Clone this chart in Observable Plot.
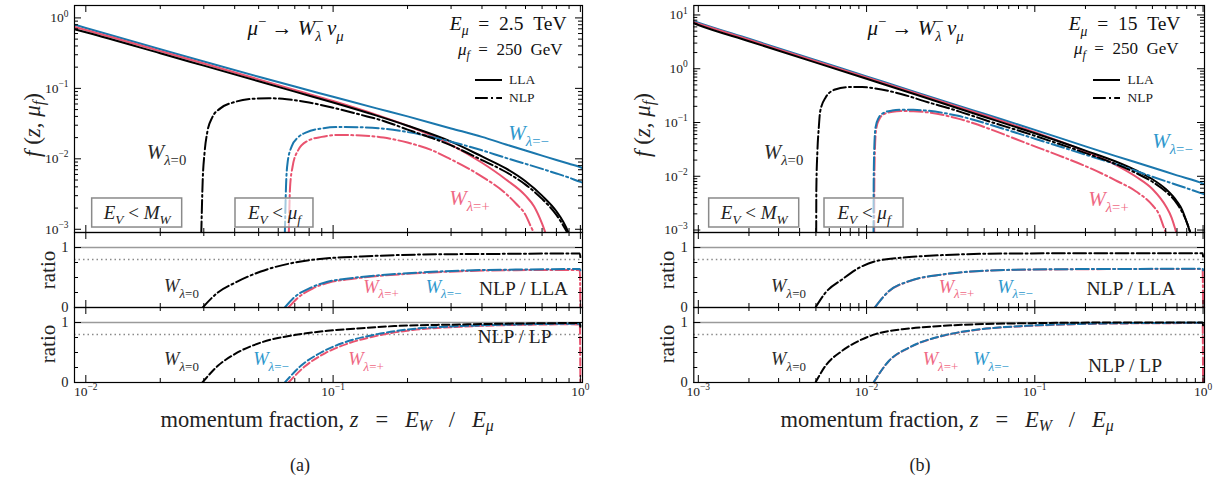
<!DOCTYPE html>
<html><head><meta charset="utf-8">
<script src="https://cdn.jsdelivr.net/npm/d3@7"></script>
<script src="https://cdn.jsdelivr.net/npm/@observablehq/plot@0.6"></script>
<style>
html,body{margin:0;padding:0;background:#fff;}
#root{position:relative;width:1218px;height:478px;overflow:hidden;font-family:"Liberation Serif","DejaVu Serif",serif;color:#222;}
.pw{position:absolute;}
.pw svg{display:block;overflow:visible;max-width:none;}
.t{position:absolute;white-space:nowrap;line-height:1;}
.t sub{font-size:70%;vertical-align:-0.28em;line-height:0;}
</style></head><body><div id="root"></div><script>
// ================= DATA : panel (a)  E_mu = 2.5 TeV =================
// main panel, [z, f(z, mu_f)]
const a_LLA_minus = [[0.009,0.80],[0.01,0.72],[0.02,0.36],[0.03,0.24],[0.05,0.146],[0.07,0.106],[0.1,0.076],[0.15,0.052],[0.2,0.040],[0.3,0.027],[0.4,0.0205],[0.5,0.016],[0.6,0.0131],[0.7,0.0111],[0.8,0.0096],[0.9,0.0085],[1.0,0.0076],[1.02,0.0074]];
const a_LLA_plus  = [[0.009,0.745],[0.01,0.675],[0.02,0.338],[0.03,0.225],[0.05,0.134],[0.07,0.095],[0.1,0.066],[0.15,0.042],[0.2,0.0295],[0.3,0.0158],[0.4,0.0088],[0.5,0.0051],[0.6,0.003],[0.65,0.0021],[0.7,0.0012],[0.73,0.0008]];
const a_LLA_zero  = [[0.009,0.69],[0.01,0.625],[0.02,0.315],[0.03,0.21],[0.05,0.126],[0.07,0.09],[0.1,0.063],[0.15,0.041],[0.2,0.0295],[0.3,0.0175],[0.4,0.0108],[0.5,0.0073],[0.6,0.0048],[0.7,0.003],[0.8,0.0018],[0.85,0.0013],[0.9,0.00085],[0.93,0.0006]];
const a_NLP_zero  = [[0.0293,0.00085],[0.0297,0.005],[0.0302,0.012],[0.031,0.024],[0.0325,0.039],[0.035,0.052],[0.04,0.064],[0.047,0.071],[0.055,0.0725],[0.065,0.070],[0.08,0.063],[0.1,0.053],[0.13,0.042],[0.16,0.0345],[0.2,0.026],[0.3,0.0155],[0.4,0.0096],[0.5,0.0065],[0.6,0.0043],[0.7,0.0027],[0.8,0.0016],[0.87,0.001],[0.9,0.0008]];
const a_NLP_minus = [[0.0638,0.00085],[0.0645,0.004],[0.0655,0.009],[0.068,0.015],[0.072,0.02],[0.078,0.0238],[0.09,0.027],[0.105,0.0282],[0.13,0.028],[0.16,0.0268],[0.2,0.024],[0.3,0.0175],[0.4,0.0132],[0.5,0.0103],[0.6,0.0085],[0.7,0.0072],[0.8,0.0062],[0.9,0.0054],[1.0,0.0047],[1.02,0.0046]];
const a_NLP_plus  = [[0.0662,0.00085],[0.067,0.004],[0.0685,0.0076],[0.072,0.013],[0.079,0.018],[0.09,0.0205],[0.105,0.0218],[0.13,0.0215],[0.16,0.02],[0.2,0.017],[0.25,0.0133],[0.3,0.0098],[0.35,0.0074],[0.4,0.0056],[0.5,0.0032],[0.55,0.0023],[0.6,0.0016],[0.63,0.0011],[0.66,0.0008]];
// ratio NLP / LLA
const a_R1_zero  = [[0.0297,0],[0.0342,0.25],[0.04,0.41],[0.051,0.6],[0.07,0.75],[0.095,0.82],[0.13,0.85],[0.18,0.873],[0.33,0.89],[0.55,0.895],[0.9,0.9],[0.995,0.9],[1.0,0.84]];
const a_R1_minus = [[0.0638,0],[0.0697,0.17],[0.0813,0.33],[0.095,0.43],[0.111,0.475],[0.151,0.535],[0.241,0.59],[0.328,0.615],[0.547,0.632],[0.9,0.64],[0.995,0.64],[1.0,0.62]];
const a_R1_plus  = [[0.066,0],[0.072,0.16],[0.083,0.32],[0.097,0.42],[0.113,0.465],[0.153,0.525],[0.24,0.58],[0.33,0.605],[0.55,0.622],[0.9,0.626],[0.995,0.62],[1.0,0]];
// ratio NLP / LP
const a_R2_zero  = [[0.0296,0],[0.0342,0.278],[0.04,0.473],[0.0512,0.667],[0.0697,0.79],[0.095,0.862],[0.13,0.906],[0.177,0.94],[0.33,0.967],[0.55,0.983],[0.9,0.99],[0.995,0.99],[1.0,0.93]];
const a_R2_minus = [[0.0638,0],[0.0741,0.278],[0.0894,0.5],[0.111,0.667],[0.151,0.806],[0.206,0.889],[0.328,0.94],[0.547,0.967],[0.9,0.98],[0.995,0.98],[1.0,0.95]];
const a_R2_plus  = [[0.066,0],[0.077,0.27],[0.093,0.49],[0.115,0.65],[0.155,0.79],[0.21,0.875],[0.33,0.93],[0.55,0.96],[0.9,0.97],[0.995,0.965],[1.0,0]];

// ================= DATA : panel (b)  E_mu = 15 TeV =================
const b_LLA_minus = [[0.00094,7.7],[0.001,7.2],[0.002,3.6],[0.005,1.44],[0.01,0.72],[0.02,0.36],[0.05,0.145],[0.1,0.073],[0.2,0.036],[0.3,0.024],[0.5,0.0146],[0.7,0.0104],[1.0,0.0073],[1.02,0.0071]];
const b_LLA_plus  = [[0.00094,7.35],[0.001,6.9],[0.002,3.45],[0.005,1.38],[0.01,0.69],[0.02,0.345],[0.05,0.136],[0.1,0.066],[0.2,0.029],[0.3,0.0165],[0.4,0.0098],[0.5,0.0058],[0.6,0.0028],[0.65,0.0017],[0.68,0.0011],[0.7,0.0008]];
const b_LLA_zero  = [[0.00094,7.0],[0.001,6.5],[0.002,3.25],[0.005,1.3],[0.01,0.65],[0.02,0.325],[0.05,0.128],[0.1,0.063],[0.2,0.03],[0.3,0.019],[0.4,0.0128],[0.5,0.0088],[0.6,0.0058],[0.7,0.0034],[0.75,0.0024],[0.8,0.0014],[0.83,0.001],[0.86,0.0007]];
const b_NLP_zero  = [[0.00502,0.00085],[0.00503,0.006],[0.0051,0.028],[0.0052,0.08],[0.0053,0.16],[0.0057,0.29],[0.0065,0.41],[0.0078,0.455],[0.0094,0.455],[0.0113,0.43],[0.016,0.34],[0.022,0.25],[0.035,0.163],[0.055,0.102],[0.086,0.066],[0.136,0.041],[0.215,0.025],[0.3,0.017],[0.4,0.0115],[0.5,0.0079],[0.6,0.0052],[0.7,0.0031],[0.8,0.0014],[0.83,0.001],[0.86,0.0007]];
const b_NLP_minus = [[0.011,0.00085],[0.01102,0.007],[0.0111,0.03],[0.0113,0.08],[0.0118,0.122],[0.0127,0.152],[0.0142,0.167],[0.016,0.172],[0.019,0.172],[0.022,0.168],[0.035,0.133],[0.055,0.09],[0.086,0.058],[0.136,0.037],[0.215,0.0235],[0.35,0.0145],[0.5,0.0098],[0.7,0.0069],[1.0,0.0047],[1.02,0.0046]];
const b_NLP_plus  = [[0.0111,0.00085],[0.01112,0.007],[0.0112,0.028],[0.0114,0.075],[0.0119,0.115],[0.0128,0.145],[0.0143,0.158],[0.016,0.163],[0.019,0.162],[0.022,0.157],[0.035,0.118],[0.055,0.074],[0.086,0.043],[0.136,0.025],[0.215,0.014],[0.3,0.0085],[0.4,0.0052],[0.5,0.0029],[0.55,0.0019],[0.58,0.0012],[0.6,0.0009]];
const b_R1_zero  = [[0.00497,0],[0.0057,0.247],[0.00716,0.468],[0.009,0.66],[0.0113,0.77],[0.0179,0.84],[0.0282,0.873],[0.0704,0.9],[0.348,0.905],[0.995,0.905],[1.0,0.85]];
const b_R1_minus = [[0.0112,0],[0.0136,0.275],[0.0179,0.44],[0.0282,0.55],[0.0446,0.605],[0.0883,0.632],[0.348,0.643],[0.995,0.645],[1.0,0.62]];
const b_R1_plus  = [[0.0112,0],[0.0136,0.272],[0.0179,0.437],[0.0282,0.548],[0.0446,0.603],[0.0883,0.63],[0.348,0.64],[0.995,0.64],[1.0,0]];
const b_R2_zero  = [[0.00497,0],[0.0057,0.278],[0.00716,0.528],[0.009,0.695],[0.0113,0.806],[0.0179,0.9],[0.0282,0.944],[0.0704,0.983],[0.348,1.0],[0.995,1.0],[1.0,0.95]];
const b_R2_minus = [[0.011,0],[0.0136,0.362],[0.0179,0.583],[0.0282,0.778],[0.0446,0.878],[0.0883,0.944],[0.348,0.989],[0.995,0.995],[1.0,0.97]];
const b_R2_plus  = [[0.011,0],[0.0136,0.36],[0.0179,0.58],[0.0282,0.775],[0.0446,0.875],[0.0883,0.94],[0.348,0.985],[0.995,0.99],[1.0,0]];

// ================= TEXT / LABELS =================
const helicityLabels = {zero:"*W*_{*λ*=0}", minus:"*W*_{*λ*=−}", plus:"*W*_{*λ*=+}"};
const processLabel = "*μ*^{−} → *W*^{−}_!{*λ*} *ν*_{*μ*}";
const energyLabels = {a:"*E*_{*μ*} = 2.5 TeV", b:"*E*_{*μ*} = 15 TeV"};
const scaleLabel = "*μ*_{*f*} = 250 GeV";
const boxLabels = ["*E*_{*V*} < *M*_{*W*}", "*E*_{*V*} < *μ*_{*f*}"];
const ratioTitles = ["NLP / LLA", "NLP / LP"];

const COL = {blue:"#1a77ad", red:"#e9536f", black:"#000", blueT:"#2f98cd", redT:"#ef6a85", blackT:"#2a2a2a"};
const DASHDOT = "12.8,3.2,2,3.2", DASHED = "7.4,3.2";
const FONT = '"Liberation Serif","DejaVu Serif",serif';

// annotation placements (data coordinates)
const a_mainText = [
  {z:0.0705,f:0.707,t:processLabel,c:"#111",s:21},
  {z:0.879,f:0.83,t:energyLabels.a,c:"#111",s:19.5,a:"end"},
  {z:0.847,f:0.36,t:scaleLabel,c:"#111",s:17,a:"end"},
  {z:0.0212,f:0.0123,t:helicityLabels.zero,c:COL.blackT,s:21},
  {z:0.617,f:0.0229,t:helicityLabels.minus,c:COL.blueT,s:21},
  {z:0.356,f:0.00274,t:helicityLabels.plus,c:COL.redT,s:21}
];
const a_boxes = [
  {z1:0.01061,z2:0.02453,f1:0.001059,f2:0.002735,t:boxLabels[0]},
  {z1:0.0403,z2:0.0833,f1:0.001059,f2:0.002735,t:boxLabels[1]}
];
const b_mainText = [
  {z:0.01954,f:5.6,t:processLabel,c:"#111",s:21},
  {z:0.734,f:6.85,t:energyLabels.b,c:"#111",s:19.5,a:"end"},
  {z:0.7145,f:2.33,t:scaleLabel,c:"#111",s:17,a:"end"},
  {z:0.003209,f:0.0277,t:helicityLabels.zero,c:COL.blackT,s:21},
  {z:0.658,f:0.0444,t:helicityLabels.minus,c:COL.blueT,s:21},
  {z:0.274,f:0.0037,t:helicityLabels.plus,c:COL.redT,s:21}
];
const b_boxes = [
  {z1:0.00116,z2:0.003978,f1:0.001115,f2:0.003862,t:boxLabels[0]},
  {z1:0.005623,z2:0.01658,f1:0.001115,f2:0.003862,t:boxLabels[1]}
];
const a_r1Text = [
  {z:0.02437,f:0.35,t:helicityLabels.zero,c:COL.blackT,s:18.5},
  {z:0.1562,f:0.34,t:helicityLabels.plus,c:COL.redT,s:18.5},
  {z:0.2796,f:0.34,t:helicityLabels.minus,c:COL.blueT,s:18.5},
  {z:0.589,f:0.317,t:ratioTitles[0],c:"#222",s:19.5}
];
const a_r2Text = [
  {z:0.02437,f:0.383,t:helicityLabels.zero,c:COL.blackT,s:18.5},
  {z:0.05609,f:0.383,t:helicityLabels.minus,c:COL.blueT,s:18.5},
  {z:0.1358,f:0.383,t:helicityLabels.plus,c:COL.redT,s:18.5},
  {z:0.5416,f:0.767,t:ratioTitles[1],c:"#222",s:19.5}
];
const b_r1Text = [
  {z:0.003436,f:0.35,t:helicityLabels.zero,c:COL.blackT,s:18.5},
  {z:0.03424,f:0.34,t:helicityLabels.plus,c:COL.redT,s:18.5},
  {z:0.07625,f:0.34,t:helicityLabels.minus,c:COL.blueT,s:18.5},
  {z:0.3731,f:0.317,t:ratioTitles[0],c:"#222",s:19.5}
];
const b_r2Text = [
  {z:0.003436,f:0.383,t:helicityLabels.zero,c:COL.blackT,s:18.5},
  {z:0.0275,f:0.383,t:helicityLabels.plus,c:COL.redT,s:18.5},
  {z:0.0549,f:0.383,t:helicityLabels.minus,c:COL.blueT,s:18.5},
  {z:0.3436,f:0.283,t:ratioTitles[1],c:"#222",s:19.5}
];

// ================= HELPERS =================
function logTicks(lo, hi){
  const major=[], minor=[];
  for(let e=Math.floor(Math.log10(lo)); e<=Math.ceil(Math.log10(hi)); e++){
    for(let m=1;m<10;m++){
      const v = +(m*Math.pow(10,e)).toPrecision(6);
      if(v<lo||v>hi) continue;
      (m===1?major:minor).push(v);
    }
  }
  return {major, minor};
}
const powFmt = d => "10^{" + String(Math.round(Math.log10(d))).replace("-","−") + "}";
function ln(data, color, dash){
  return Plot.line(data, {x:d=>d[0], y:d=>d[1], stroke:color, strokeWidth:2, strokeDasharray:dash, curve:"monotone-x", clip:true});
}
function txt(L){
  return Plot.text([L], {x:"z", y:"f", text:"t", fill:L.c, fontSize:L.s, textAnchor:L.a||"middle"});
}
function boxMarks(boxes){
  return [
    Plot.rect(boxes, {x1:"z1", x2:"z2", y1:"f1", y2:"f2", fill:"#fff", fillOpacity:0.6, stroke:"#8a8a8a", strokeWidth:1.5}),
    Plot.text(boxes, {x:d=>Math.sqrt(d.z1*d.z2), y:d=>Math.sqrt(d.f1*d.f2), text:"t", fill:"#222", fontSize:19})
  ];
}
const root = document.getElementById("root");
function panel(cfg){
  const {left, top, width, height, mL, mR, mT, mB, xDomain, yLog, yDomain, marks, xLabels} = cfg;
  const fw = width-mL-mR, fh = height-mT-mB;
  const xt = logTicks(xDomain[0], xDomain[1]);
  let yMaj, yMin, yLab, yFmt, yFs;
  if(yLog){ const t = logTicks(yDomain[0], yDomain[1]); yMaj=t.major; yMin=t.minor; yLab=t.major; yFmt=powFmt; yFs=13.5; }
  else { yMaj=[0,1]; yMin=[0.25,0.5,0.75]; yLab=[0,1]; yFmt=d=>String(d); yFs=14.5; }
  const tk = {stroke:"#000", strokeWidth:1};
  const all = [
    ...marks,
    Plot.tickX(xt.major, {x:d=>d, insetTop:fh-7, ...tk}),
    Plot.tickX(xt.major, {x:d=>d, insetBottom:fh-7, ...tk}),
    Plot.tickX(xt.minor, {x:d=>d, insetTop:fh-4, ...tk}),
    Plot.tickX(xt.minor, {x:d=>d, insetBottom:fh-4, ...tk}),
    Plot.tickY(yMaj, {y:d=>d, insetRight:fw-7, ...tk}),
    Plot.tickY(yMaj, {y:d=>d, insetLeft:fw-7, ...tk}),
    Plot.tickY(yMin, {y:d=>d, insetRight:fw-4, ...tk}),
    Plot.tickY(yMin, {y:d=>d, insetLeft:fw-4, ...tk}),
    Plot.text(yLab, {y:d=>d, frameAnchor:"left", dx:-6, textAnchor:"end", text:yFmt, fontSize:yFs, fill:"#222"}),
    Plot.frame({stroke:"#000", strokeWidth:1.2})
  ];
  if(xLabels) all.push(Plot.text(xt.major, {x:d=>d, frameAnchor:"bottom", dy:13, text:powFmt, fontSize:13.5, fill:"#222"}));
  const svg = Plot.plot({
    width, height, marginLeft:mL, marginRight:mR, marginTop:mT, marginBottom:mB,
    x:{type:"log", domain:xDomain, axis:null},
    y:{type:yLog?"log":"linear", domain:yDomain, axis:null},
    style:{fontFamily:FONT, fontSize:"13px", background:"transparent", overflow:"visible", color:"#222"},
    marks: all
  });
  const d = document.createElement("div");
  d.className = "pw"; d.style.left = left+"px"; d.style.top = top+"px"; d.style.width = width+"px";
  d.appendChild(svg); root.appendChild(d);
}
function refLines(){ return [
  Plot.ruleY([1], {stroke:"#9a9a9a", strokeWidth:1.6}),
  Plot.ruleY([0.8], {stroke:"#8a8a8a", strokeWidth:1.5, strokeDasharray:"1.5,3"})
]; }

// ================= PANELS =================
const specs = [
  {left:0, width:600, mL:74, mR:18, xDomain:[0.009,1.02], yMain:[9e-4,1.5],
   main:[a_LLA_minus,a_LLA_plus,a_LLA_zero], nlp:[a_NLP_minus,a_NLP_plus,a_NLP_zero],
   r1:[a_R1_minus,a_R1_plus,a_R1_zero], r2:[a_R2_minus,a_R2_plus,a_R2_zero],
   mainText:a_mainText, boxes:a_boxes, r1Text:a_r1Text, r2Text:a_r2Text},
  {left:610, width:608, mL:83.3, mR:14, xDomain:[0.00094,1.02], yMain:[9e-4,15],
   main:[b_LLA_minus,b_LLA_plus,b_LLA_zero], nlp:[b_NLP_minus,b_NLP_plus,b_NLP_zero],
   r1:[b_R1_minus,b_R1_plus,b_R1_zero], r2:[b_R2_minus,b_R2_plus,b_R2_zero],
   mainText:b_mainText, boxes:b_boxes, r1Text:b_r1Text, r2Text:b_r2Text}
];
for(const s of specs){
  const common = {left:s.left, width:s.width, mL:s.mL, mR:s.mR, xDomain:s.xDomain};
  panel({...common, top:0, height:232, mT:5, mB:0, yLog:true, yDomain:s.yMain, marks:[
    ln(s.main[0], COL.blue), ln(s.main[1], COL.red), ln(s.main[2], COL.black),
    ln(s.nlp[1], COL.red, DASHDOT), ln(s.nlp[0], COL.blue, DASHDOT), ln(s.nlp[2], COL.black, DASHDOT),
    ...boxMarks(s.boxes), ...s.mainText.map(txt)
  ]});
  panel({...common, top:232, height:75, mT:0, mB:0, yLog:false, yDomain:[0,1.25], marks:[
    ...refLines(),
    ln(s.r1[1], COL.red, DASHDOT), ln(s.r1[0], COL.blue, DASHDOT), ln(s.r1[2], COL.black, DASHDOT),
    ...s.r1Text.map(txt)
  ]});
  panel({...common, top:307, height:105, mT:0, mB:30, yLog:false, yDomain:[0,1.25], xLabels:true, marks:[
    ...refLines(),
    ln(s.r2[1], COL.red, DASHED), ln(s.r2[0], COL.blue, DASHED), ln(s.r2[2], COL.black, DASHED),
    ...s.r2Text.map(txt)
  ]});
}

// ================= HTML overlays (axis titles, legend, captions) =================
function html(cx, cy, inner, size, rot, anchor){
  const d = document.createElement("div");
  d.className = "t"; d.innerHTML = inner; d.style.fontSize = size+"px";
  d.style.left = cx+"px"; d.style.top = cy+"px";
  const tx = anchor==="start" ? "0" : "-50%";
  d.style.transform = `translate(${tx},-50%)` + (rot ? " rotate(-90deg)" : "");
  root.appendChild(d);
}
const yTitle = '<i>f</i>&#8197;(<i>z</i>,&#8197;<i>μ</i><sub><i>f</i></sub>)';
const xTitle = 'momentum fraction, <i>z</i>&ensp;&#8197;=&ensp;&#8197;<i>E</i><sub><i>W</i></sub>&ensp;&#8197;/&ensp;&#8197;<i>E</i><sub><i>μ</i></sub>';
const legendNames = ["LLA","NLP"];
const overlays = [
  {x:32, y:125, h:yTitle, s:23, r:true}, {x:642, y:125, h:yTitle, s:23, r:true},
  {x:48, y:270, h:"ratio", s:21, r:true}, {x:48, y:344, h:"ratio", s:21, r:true},
  {x:667, y:270, h:"ratio", s:21, r:true}, {x:667, y:344, h:"ratio", s:21, r:true},
  {x:327, y:420, h:xTitle, s:22.5}, {x:947, y:420, h:xTitle, s:22.5},
  {x:300, y:465, h:"(a)", s:18}, {x:920, y:465, h:"(b)", s:18}
];
overlays.forEach(o => html(o.x, o.y, o.h, o.s, o.r));
// legends
[{lx:474.6, tx:509}, {lx:1092.7, tx:1127.6}].forEach(L => {
  [[80, null],[98.3, DASHDOT]].forEach(([yy, dash], i) => {
    const sv = document.createElementNS("http://www.w3.org/2000/svg","svg");
    sv.setAttribute("width", 28); sv.setAttribute("height", 10);
    sv.style.position = "absolute"; sv.style.left = L.lx+"px"; sv.style.top = (yy-5)+"px";
    sv.innerHTML = `<line x1="0" y1="5" x2="27" y2="5" stroke="#000" stroke-width="2" ${dash?`stroke-dasharray="${dash}"`:""}/>`;
    root.appendChild(sv);
    html(L.tx, yy, legendNames[i], 13.5, false, "start");
  });
});

// ================= rich text (sub/superscripts, italics) in SVG texts =================
const SVGNS = "http://www.w3.org/2000/svg";
function parseRich(s){
  const segs=[]; let italic=false, level=0, stacked=false, buf="";
  const push=()=>{ if(buf){ segs.push({t:buf, italic, level, stacked}); buf=""; stacked=false; } };
  for(let i=0;i<s.length;i++){
    const c=s[i];
    if(c==="*"){ push(); italic=!italic; continue; }
    if((c==="_"||c==="^") && (s[i+1]==="{" || (s[i+1]==="!" && s[i+2]==="{"))){
      push(); const st = s[i+1]==="!"; level = c==="_"?1:-1; stacked=st; i += st?2:1; continue;
    }
    if(c==="}" && level!==0){ push(); level=0; continue; }
    buf+=c;
  }
  push(); return segs;
}
function richify(el){
  const s = el.textContent;
  if(!/[*_^]/.test(s)) return;
  const fs = parseFloat(getComputedStyle(el).fontSize) || 12;
  const segs = parseRich(s);
  while(el.firstChild) el.removeChild(el.firstChild);
  let cur=0, prev=null;
  for(const g of segs){
    const ts = document.createElementNS(SVGNS, "tspan");
    const target = g.level===1 ? 0.28*fs : g.level===-1 ? -0.42*fs : 0;
    if(target!==cur) ts.setAttribute("dy", (target-cur).toFixed(2));
    cur = target;
    if(g.level!==0) ts.setAttribute("font-size", (0.7*fs).toFixed(2));
    if(g.italic) ts.setAttribute("font-style", "italic");
    // wider spacing around relations, like typeset math
    ts.textContent = g.level===0 ? g.t.replace(/ = /g, "\u2002=\u2002").replace(/ (TeV|GeV)/, "\u2002$1") : g.t;
    el.appendChild(ts);
    if(g.stacked && prev) ts.setAttribute("dx", (-prev.getComputedTextLength()).toFixed(2));
    prev = ts;
  }
}
root.querySelectorAll("svg text").forEach(richify);
</script></body></html>
